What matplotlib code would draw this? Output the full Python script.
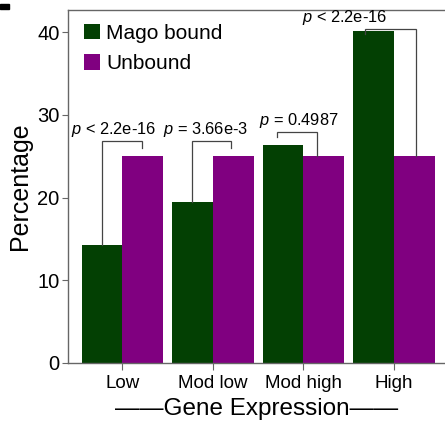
import matplotlib
matplotlib.use("Agg")
import matplotlib.pyplot as plt
import numpy as np

plt.rcParams['font.family'] = ['Liberation Sans', 'DejaVu Sans']
plt.rcParams['mathtext.fontset'] = 'custom'
plt.rcParams['mathtext.it'] = 'Liberation Sans:italic'
plt.rcParams['mathtext.rm'] = 'Liberation Sans'

categories = ["Low", "Mod low", "Mod high", "High"]
mago_bound = [14.3, 19.5, 26.4, 40.1]
unbound = [25.0, 25.0, 25.0, 25.0]
p_labels = [r"$p$ < 2.2e-16", r"$p$ = 3.66e-3", r"$p$ = 0.4987", r"$p$ < 2.2e-16"]
bracket_tops = [26.8, 26.8, 27.9, 40.4]

# annotation layout tweaks (data units along x)
label_shift = [-0.094, -0.077, -0.055, -0.54]
leg_shift_left = [0.0, -0.01, -0.065, -0.09]
leg_shift_right = [-0.01, -0.02, -0.075, 0.015]

green = "#034003"
purple = "#800080"

fig = plt.figure(figsize=(4.45, 4.21), dpi=100)
ax = fig.add_axes([68 / 445, 58 / 421, 377 / 445, 353 / 421])

x = np.arange(len(categories))
w = 0.45
ax.bar(x - w / 2, mago_bound, w, color=green, label="Mago bound")
ax.bar(x + w / 2, unbound, w, color=purple, label="Unbound")

# significance brackets: long leg down to the lower bar, short leg over the taller one
for i in range(len(categories)):
    top = bracket_tops[i]
    x0 = i - w / 2 + leg_shift_left[i]
    x1 = i + w / 2 + leg_shift_right[i]
    if mago_bound[i] < unbound[i]:
        y0, y1 = mago_bound[i], top - 0.8
    else:
        y0, y1 = top - 0.6, unbound[i]
    ax.plot([x0, x0, x1, x1], [y0, top, top, y1], color="#444444", lw=0.9,
            zorder=3, solid_joinstyle="miter")
    ax.text(i + label_shift[i], top + 0.25, p_labels[i], ha="center",
            va="bottom", fontsize=11.8)

ax.set_xlim(-0.6, -0.6 + 377 / 90.5)
ax.set_ylim(0, 42.7)
ax.set_yticks([0, 10, 20, 30, 40])
ax.set_xticks(x)
ax.set_xticklabels(categories, fontsize=13.5)
ax.tick_params(axis="y", labelsize=14.5, length=4, color="#666666", pad=2)
ax.tick_params(axis="x", length=5, color="#666666", pad=4)

for s in ["left", "top", "bottom"]:
    ax.spines[s].set_color("#666666")
    ax.spines[s].set_linewidth(1.0)
ax.spines["right"].set_visible(False)

ax.set_ylabel("Percentage", fontsize=18, labelpad=4)
ax.set_xlabel("——Gene Expression——", fontsize=17.5, labelpad=4)

ax.legend(loc="upper left", frameon=False, fontsize=15, handlelength=0.75,
          handleheight=0.75, handletextpad=0.3, labelspacing=0.55,
          borderaxespad=0.5, bbox_to_anchor=(-0.006, 1.014))

# small dark mark at top-left corner
fig.patches.append(plt.Rectangle((0, 1 - 9 / 421), 9 / 445, 5 / 421,
                                 transform=fig.transFigure, color="black"))

fig.savefig("out.png", dpi=100)
